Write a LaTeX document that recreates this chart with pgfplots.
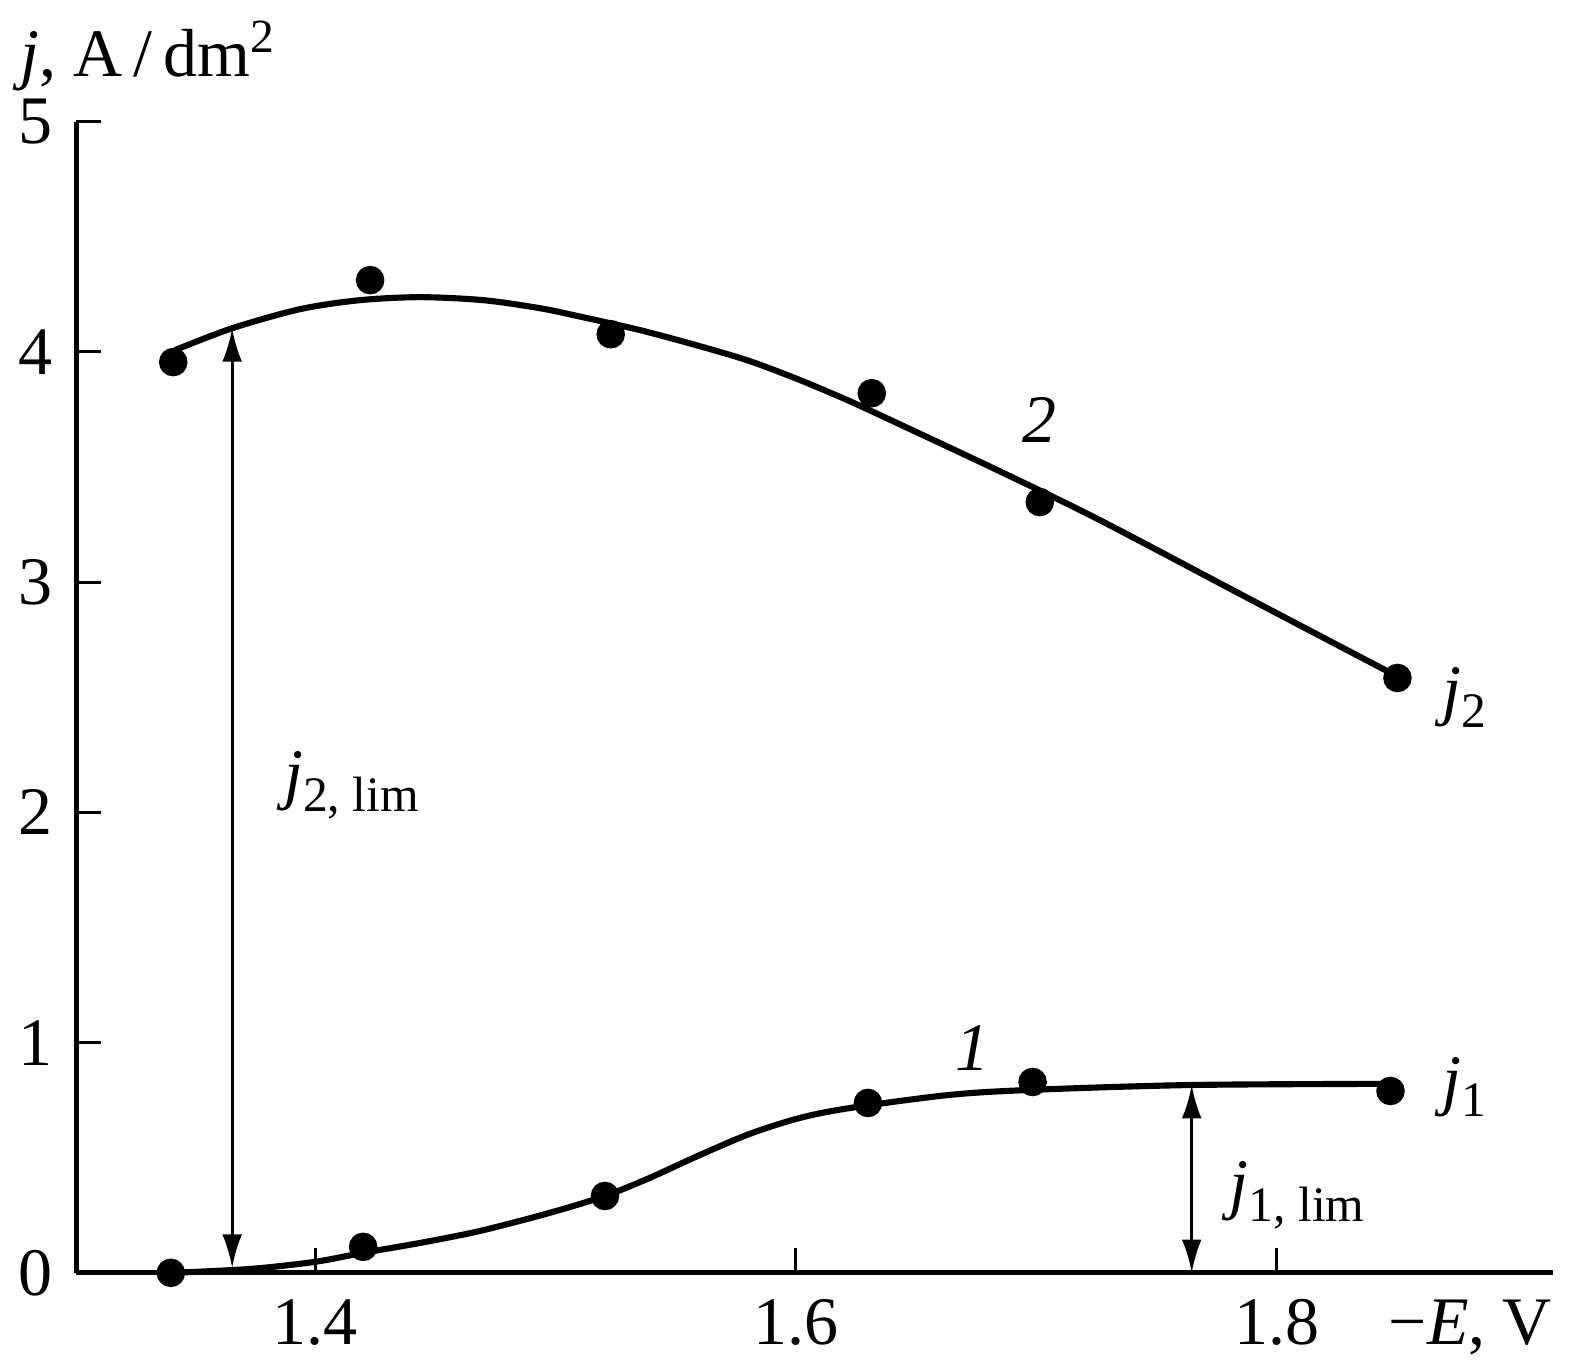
\documentclass[border=0pt]{standalone}
\usepackage{fontspec}
\setmainfont{Liberation Serif}
\usepackage{pgfplots}
\pgfplotsset{compat=1.18}
\usetikzlibrary{arrows.meta}
\newcommand{\sub}[1]{\raisebox{-0.22em}{\fontsize{7.3}{8}\selectfont #1}}
\begin{document}
\fontsize{10}{12}\selectfont
\begin{tikzpicture}
\begin{axis}[
  scale only axis,
  width=217.2pt, height=169.3pt,
  xmin=1.3006, xmax=1.915,
  ymin=0, ymax=5,
  axis x line*=bottom, axis y line*=left,
  axis line style={line width=0.75pt},
  tick align=inside,
  major tick length=3.6pt,
  tick style={line width=0.45pt, black},
  xtick={1.4,1.6,1.8},
  ytick={0,1,2,3,4,5},
  /pgf/number format/assume math mode=true,
  /pgf/number format/fixed,
  xticklabel style={anchor=base, yshift=-10.6pt},
  yticklabel style={anchor=east},
  clip=false,
]
% curve 2 (fitted line)
\addplot[black, line width=0.9pt, smooth] coordinates {
 (1.3417,4.008) (1.3655,4.103) (1.3938,4.186) (1.4187,4.225) (1.4437,4.238)
 (1.4699,4.225) (1.4936,4.190) (1.5114,4.151) (1.5351,4.095) (1.5601,4.025)
 (1.5809,3.960) (1.6017,3.878) (1.6225,3.786) (1.6432,3.686) (1.6848,3.482)
 (1.7264,3.270) (1.7888,2.927) (1.8491,2.597)
};
% curve 1 (fitted line)
\addplot[black, line width=0.9pt, smooth] coordinates {
 (1.3405,0.000) (1.3730,0.017) (1.4000,0.048) (1.4200,0.087) (1.4437,0.130)
 (1.4686,0.182) (1.4977,0.261) (1.5206,0.334) (1.5393,0.413) (1.5601,0.512)
 (1.5809,0.604) (1.6017,0.673) (1.6225,0.716) (1.6640,0.773) (1.6985,0.795)
 (1.7647,0.816) (1.8474,0.821)
};
% data points curve 2
\addplot[only marks, mark=*, mark size=1.9pt, black] coordinates {
 (1.341,3.956) (1.4229,4.312) (1.523,4.077) (1.6316,3.821) (1.7015,3.348) (1.8503,2.584)
};
% data points curve 1
\addplot[only marks, mark=*, mark size=1.9pt, black] coordinates {
 (1.340,0.0) (1.420,0.113) (1.5206,0.334) (1.630,0.738) (1.6985,0.829) (1.8474,0.790)
};
% arrows
\draw[{Latex[length=4.9pt,width=2.9pt]}-{Latex[length=4.9pt,width=2.9pt]}, line width=0.45pt]
  (axis cs:1.3655,0.022) -- (axis cs:1.3655,4.103);
\draw[{Latex[length=4.9pt,width=2.9pt]}-{Latex[length=4.9pt,width=2.9pt]}, line width=0.45pt]
  (axis cs:1.7647,0) -- (axis cs:1.7647,0.816);
% labels
\node[anchor=base west, inner sep=0pt] at (axis cs:1.3866,2.067) {\textit{j}\sub{2,\ lim}};
\node[anchor=base west, inner sep=0pt] at (axis cs:1.7800,0.287) {\textit{j}\sub{1,\ lim}};
\node[anchor=base west, inner sep=0pt] at (axis cs:1.8685,2.432) {\textit{j}\sub{2}};
\node[anchor=base west, inner sep=0pt] at (axis cs:1.8685,0.742) {\textit{j}\sub{1}};
\node[anchor=base, inner sep=0pt] at (axis cs:1.7015,3.608) {\textit{2}};
\node[anchor=base, inner sep=0pt] at (axis cs:1.6736,0.881) {\textit{1}};
\node[anchor=base east, inner sep=0pt] at (rel axis cs:1,0) [yshift=-10.6pt] {−\textit{E}, V};
\node[anchor=base west, inner sep=0pt] at (rel axis cs:0,1) [xshift=-8.4pt, yshift=6.6pt] {\textit{j}, A\,/\,dm\textsuperscript{2}};
\end{axis}
\pgfresetboundingbox
\useasboundingbox (-11.2pt,-14.1pt) rectangle (219.7pt,187.2pt);
\end{tikzpicture}
\end{document}
